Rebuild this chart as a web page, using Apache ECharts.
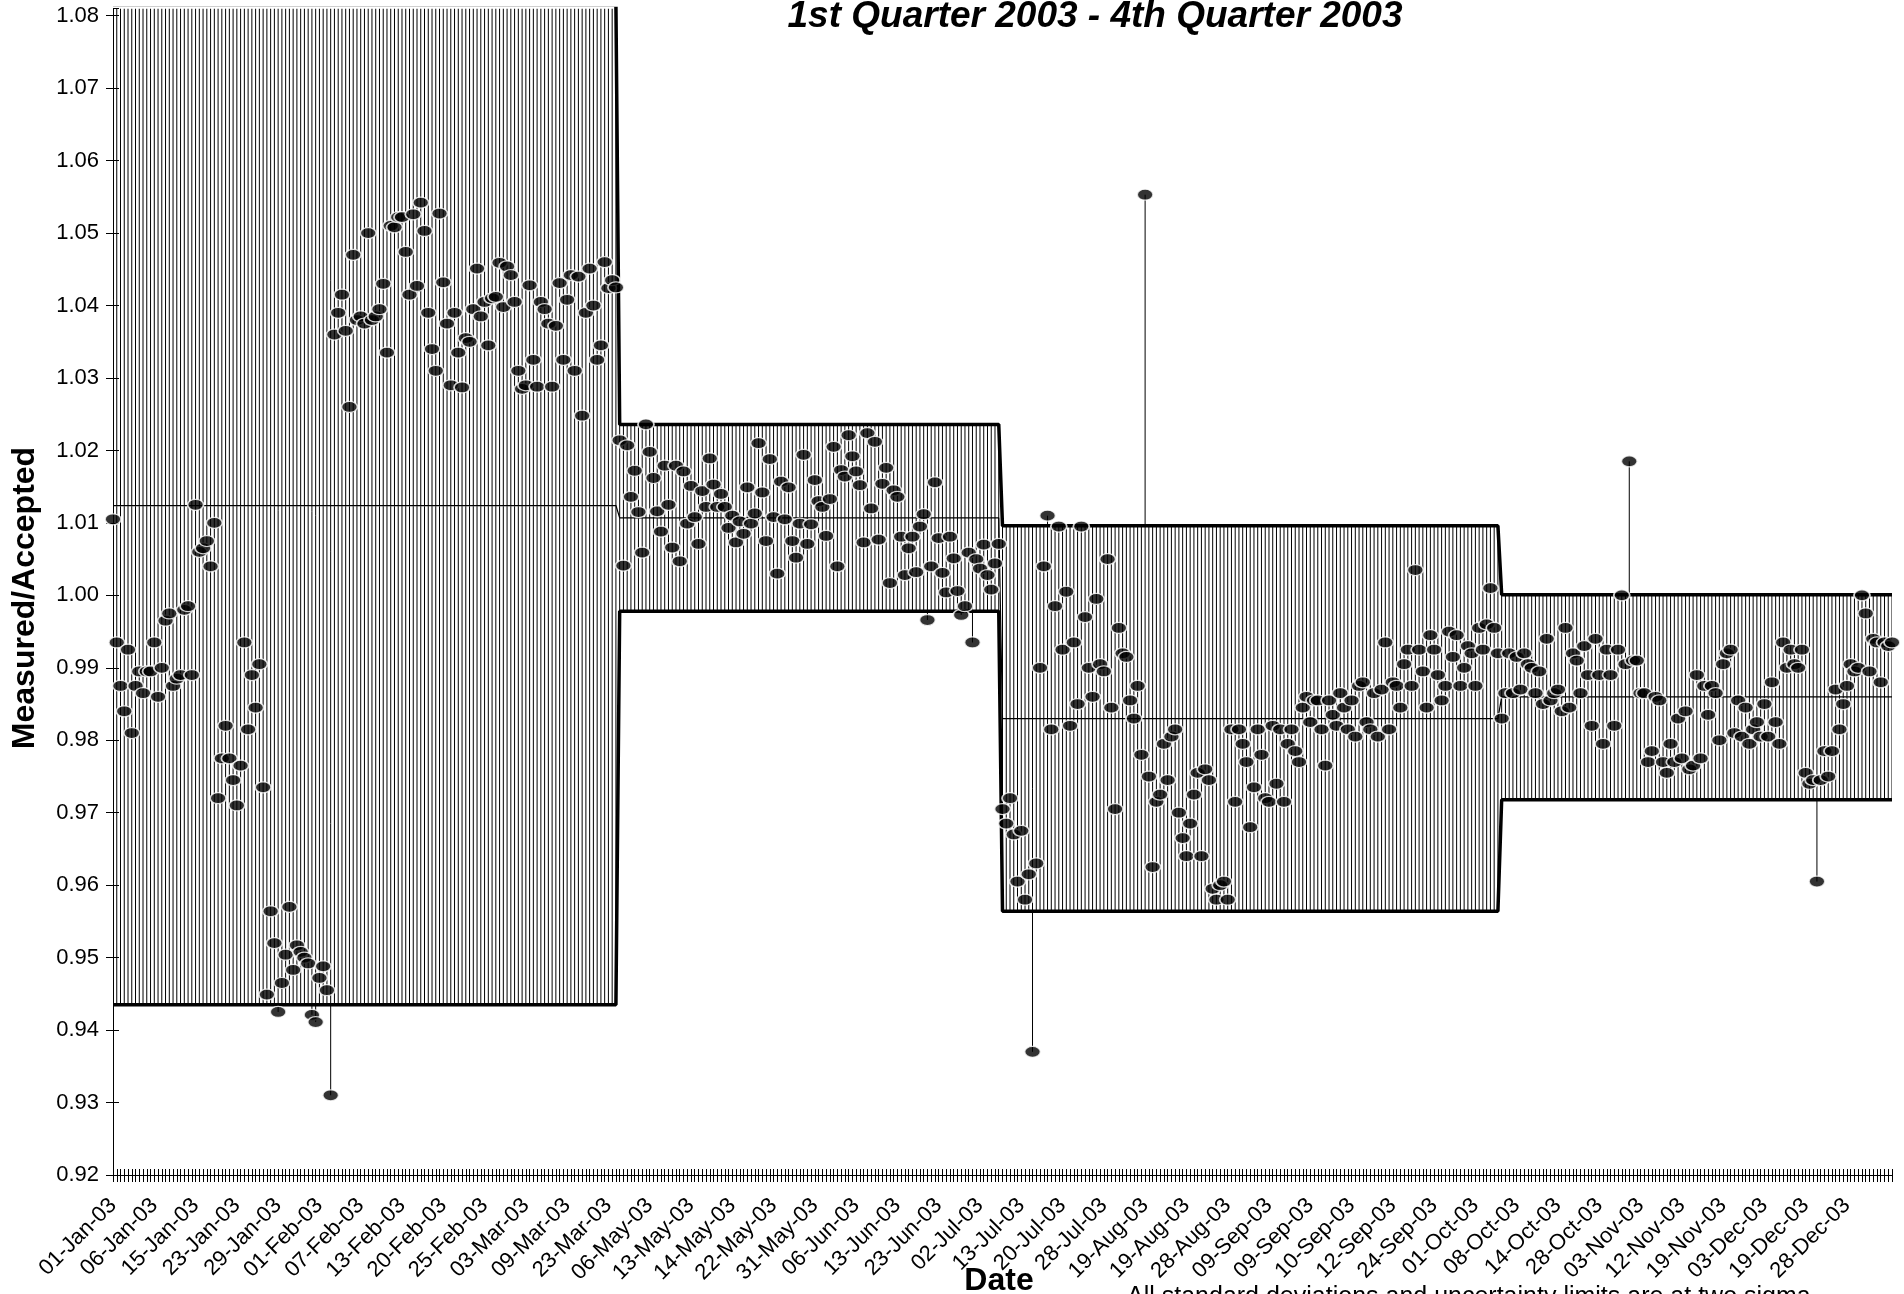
<!DOCTYPE html>
<html><head><meta charset="utf-8">
<script src="https://cdn.jsdelivr.net/npm/echarts@6/dist/echarts.min.js"></script>
<style>html,body{margin:0;padding:0;background:#fff}#chart{width:1904px;height:1294px}</style>
</head><body><div id="chart"></div>
<script>
const tickLabels = ['01-Jan-03','06-Jan-03','15-Jan-03','23-Jan-03','29-Jan-03','01-Feb-03','07-Feb-03','13-Feb-03','20-Feb-03','25-Feb-03','03-Mar-03','09-Mar-03','23-Mar-03','06-May-03','13-May-03','14-May-03','22-May-03','31-May-03','06-Jun-03','13-Jun-03','23-Jun-03','02-Jul-03','13-Jul-03','20-Jul-03','28-Jul-03','19-Aug-03','19-Aug-03','28-Aug-03','09-Sep-03','09-Sep-03','10-Sep-03','12-Sep-03','24-Sep-03','01-Oct-03','08-Oct-03','14-Oct-03','28-Oct-03','03-Nov-03','12-Nov-03','19-Nov-03','03-Dec-03','19-Dec-03','28-Dec-03'];
const labelEvery = 11;

const periodStart = [0, 135, 237, 370];
const upperLimit  = [1.0815, 1.0236, 1.0096, 1.0001];
const centerLine  = [1.0124, 1.0107, 0.9830, 0.9860];
const lowerLimit  = [0.9435, 0.9978, 0.9564, 0.9718];

const q1Values = [1.0105,0.9935,0.9875,0.984,0.9925,0.981,0.9875,0.9895,0.9865,0.9895,
0.9895,0.9935,0.986,0.990,0.9965,0.9975,0.9875,0.9885,0.989,0.998,
0.9985,0.989,1.0125,1.006,1.0065,1.0075,1.004,1.010,0.972,0.9775,
0.982,0.9775,0.9745,0.971,0.9765,0.9935,0.9815,0.989,0.9845,0.9905,
0.9735,0.9449,0.9564,0.952,0.9425,0.9465,0.9504,0.957,0.9483,0.9517,
0.9508,0.9500,0.9492,0.9421,0.9411,0.9472,0.9488,0.9455,0.931,1.036,
1.039,1.0415,1.0365,1.026,1.047,1.038,1.0385,1.0375,1.050,1.038,
1.0385,1.0395,1.043,1.0335,1.051,1.0508,1.0522,1.0522,1.0474,1.0415,
1.0526,1.0427,1.0542,1.0503,1.039,1.034,1.031,1.0527,1.0432,1.0375,
1.029,1.039,1.0335,1.0287,1.0355,1.035,1.0395,1.0451,1.0385,1.0405,
1.0345,1.041,1.0412,1.0459,1.0398,1.0454,1.0442,1.0405,1.031,1.0285,
1.029,1.0428,1.0325,1.0288,1.0405,1.0395,1.0375,1.0288,1.0372,1.0431,
1.0325,1.0408,1.0442,1.031,1.0440,1.0248,1.039,1.0451,1.040,1.0325,
1.0345,1.046,1.0424,1.0435,1.0425];

const q2Values = [1.0214,1.0041,1.0207,1.0136,1.0172,1.0115,1.0059,1.0236,1.0198,1.0162,
1.0116,1.0088,1.0179,1.0125,1.0066,1.0179,1.0047,1.0171,1.0099,1.0151,
1.0108,1.0071,1.0144,1.0122,1.0189,1.0153,1.0122,1.0140,1.0122,1.0093,
1.0110,1.0073,1.0102,1.0085,1.0149,1.0099,1.0113,1.0210,1.0142,1.0075,
1.0188,1.0108,1.0030,1.0157,1.0105,1.0149,1.0075,1.0052,1.0099,1.0194,
1.0071,1.0098,1.0159,1.0130,1.0122,1.0082,1.0133,1.0205,1.0040,1.0173,
1.0164,1.0221,1.0192,1.0171,1.0152,1.0073,1.0224,1.0120,1.0212,1.0077,
1.0154,1.0176,1.0017,1.0145,1.0136,1.0081,1.0028,1.0065,1.0081,1.0032,
1.0095,1.0112,0.9966,1.0040,1.0156,1.0079,1.0031,1.0004,1.0081,1.0051,
1.0006,0.9973,0.9985,1.0059,0.9935,1.0050,1.0037,1.0070,1.0028,1.0008,
1.0044,1.0071];

const q3Values = [0.9705,0.9685,0.972,0.967,0.9605,0.9675,0.958,0.9615,0.937,0.963,
0.990,1.004,1.011,0.9815,0.9985,1.0095,0.9925,1.0005,0.982,0.9935,
0.985,1.0095,0.997,0.990,0.986,0.9995,0.9905,0.9895,1.005,0.9845,
0.9705,0.9955,0.992,0.9915,0.9855,0.983,0.9875,0.978,1.0553,0.975,
0.9625,0.9715,0.9725,0.9795,0.9745,0.9805,0.9815,0.970,0.9665,0.964,
0.9685,0.9725,0.9755,0.964,0.976,0.9745,0.9595,0.958,0.96,0.9605,
0.958,0.9815,0.9715,0.9815,0.9795,0.977,0.968,0.9735,0.9815,0.978,
0.972,0.9715,0.982,0.974,0.9815,0.9715,0.9795,0.9815,0.9785,0.977,
0.9845,0.986,0.9825,0.9855,0.9855,0.9815,0.9765,0.9855,0.9835,0.982,
0.9865,0.9845,0.9815,0.9855,0.9805,0.9875,0.988,0.9825,0.9815,0.9865,
0.9805,0.987,0.9935,0.9815,0.988,0.9875,0.9845,0.9905,0.9925,0.9875,
1.0035,0.9925,0.9895,0.9845,0.9945,0.9925,0.989,0.9855,0.9875,0.995,
0.9915,0.9945,0.9875,0.990,0.993,0.992,0.9875,0.9955,0.9925,0.996,
1.001,0.9955,0.992];

const q4Values = [0.983,0.9865,0.992,0.9865,0.9915,0.987,0.992,0.9905,0.990,0.9865,
0.9895,0.985,0.994,0.9855,0.9865,0.987,0.984,0.9955,0.9845,0.992,
0.991,0.9865,0.993,0.989,0.982,0.994,0.989,0.9795,0.9925,0.989,
0.982,0.9925,1.000,0.9905,1.0185,0.991,0.991,0.9865,0.9865,0.977,
0.9785,0.986,0.9855,0.977,0.9755,0.9795,0.977,0.983,0.9775,0.984,
0.976,0.9765,0.989,0.9775,0.9875,0.9835,0.9875,0.9865,0.980,0.9905,
0.992,0.9925,0.981,0.9855,0.9805,0.9845,0.9795,0.9815,0.9825,0.9805,
0.985,0.9805,0.988,0.9825,0.9795,0.9935,0.990,0.9925,0.9905,0.990,
0.9925,0.9755,0.974,0.9745,0.9605,0.9745,0.9785,0.975,0.9785,0.987,
0.9815,0.985,0.9875,0.9905,0.9895,0.990,1.000,0.9975,0.9895,0.994,
0.9935,0.988,0.9935,0.993,0.9935];

const yTicks = {min: 0.92, max: 1.081, step: 0.01};

const measured = q1Values.concat(q2Values, q3Values, q4Values);
const categories = measured.map((_, i) => String(i));
function periodOf(i) { let p = 0; for (let k = 0; k < periodStart.length; k++) if (i >= periodStart[k]) p = k; return p; }
const upperSeries = measured.map((_, i) => upperLimit[periodOf(i)]);
const centerSeries = measured.map((_, i) => centerLine[periodOf(i)]);
const lowerSeries = measured.map((_, i) => lowerLimit[periodOf(i)]);
const highLow = measured.map((v, i) => [i,
  Math.min(Math.max(upperSeries[i], v), yTicks.max),
  Math.max(Math.min(lowerSeries[i], v), yTicks.min)]);

const FONT = '"Liberation Sans", Arial, sans-serif';
const chart = echarts.init(document.getElementById('chart'), null, {renderer: 'canvas'});
const baseX = {type: 'category', data: categories, boundaryGap: false, gridIndex: 0};
chart.setOption({
  animation: false,
  backgroundColor: '#fff',
  grid: {left: 113, right: 12, top: 8.5, bottom: 119, containLabel: false},
  xAxis: [
    Object.assign({}, baseX, {
      position: 'bottom',
      axisLine: {show: true, lineStyle: {color: '#000', width: 1}},
      axisTick: {show: true, interval: 0, length: 7, lineStyle: {color: '#000', width: 1}},
      axisLabel: {interval: labelEvery - 1, rotate: 45, margin: 27, color: '#000', fontFamily: FONT, fontSize: 22,
        formatter: (v, idx) => tickLabels[Math.round(idx / labelEvery)] || ''},
      splitLine: {show: false}
    }),
    Object.assign({}, baseX, {
      position: 'bottom',
      axisLine: {show: false},
      axisTick: {show: true, inside: true, interval: 0, length: 6, lineStyle: {color: '#000', width: 1}},
      axisLabel: {show: false}, splitLine: {show: false}
    })
  ],
  yAxis: [
    {type: 'value', min: yTicks.min, max: yTicks.max, interval: yTicks.step,
      axisLine: {show: true, lineStyle: {color: '#000', width: 1}},
      axisTick: {show: true, length: 7, lineStyle: {color: '#000'}},
      axisLabel: {color: '#000', fontFamily: FONT, fontSize: 22, margin: 14, showMaxLabel: false,
        formatter: v => v.toFixed(2)},
      splitLine: {show: false}},
    {type: 'value', min: yTicks.min, max: yTicks.max, interval: yTicks.step, position: 'left',
      axisLine: {show: false},
      axisTick: {show: true, inside: true, length: 6, lineStyle: {color: '#000'}},
      axisLabel: {show: false}, splitLine: {show: false}}
  ],
  series: [
    {type: 'custom', name: 'range', xAxisIndex: 0, yAxisIndex: 0, data: highLow, z: 1, clip: true,
      encode: {x: 0, y: [1, 2]},
      renderItem: (params, api) => {
        const x = api.value(0);
        const p1 = api.coord([x, api.value(1)]);
        const p2 = api.coord([x, api.value(2)]);
        return {type: 'line', shape: {x1: p1[0], y1: p1[1], x2: p2[0], y2: p2[1]},
          style: {stroke: '#000', lineWidth: 1}};
      }},
    {type: 'line', name: 'Upper', data: upperSeries, showSymbol: false, symbol: 'none', clip: true, z: 3,
      lineStyle: {color: '#000', width: 3.5}},
    {type: 'line', name: 'Lower', data: lowerSeries, showSymbol: false, symbol: 'none', clip: true, z: 3,
      lineStyle: {color: '#000', width: 3.5}},
    {type: 'line', name: 'Mean', data: centerSeries, showSymbol: false, symbol: 'none', clip: true, z: 3,
      lineStyle: {color: '#000', width: 1.2}},
    {type: 'scatter', name: 'Measured/Accepted', data: measured, symbol: 'circle', symbolSize: [16, 11], z: 5,
      itemStyle: {color: '#000', borderColor: '#fff', borderWidth: 1.5}}
  ],
  graphic: [
    {type: 'text', x: 1095, y: -2, style: {text: '1st Quarter 2003 - 4th Quarter 2003',
      font: 'italic bold 37px ' + FONT, fill: '#000', textAlign: 'center', textVerticalAlign: 'top'}},
    {type: 'text', x: 999, y: 1281, style: {text: 'Date', font: 'bold 32px ' + FONT, fill: '#000',
      textAlign: 'center', textVerticalAlign: 'middle'}},
    {type: 'text', x: 25, y: 598, rotation: Math.PI / 2, style: {text: 'Measured/Accepted', font: 'bold 32px ' + FONT,
      fill: '#000', textAlign: 'center', textVerticalAlign: 'middle'}},
    {type: 'text', x: 1127, y: 1285, style: {text: 'All standard deviations and uncertainty limits are at two sigma',
      font: '25px ' + FONT, fill: '#000', textAlign: 'left', textVerticalAlign: 'top'}}
  ]
});
</script></body></html>
